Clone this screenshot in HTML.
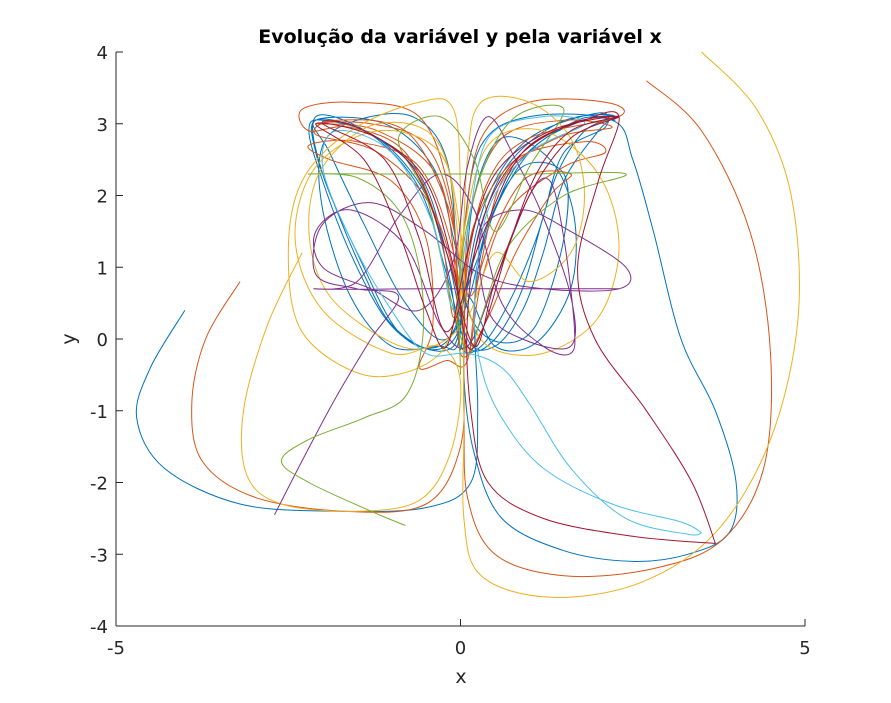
<!DOCTYPE html>
<html><head><meta charset="utf-8"><style>
html,body{margin:0;padding:0;background:#fff;}
svg{display:block;font-family:"DejaVu Sans","Liberation Sans",sans-serif;}
</style></head><body>
<svg id="chart" width="891" height="703" viewBox="0 0 891 703" xmlns="http://www.w3.org/2000/svg">
<rect x="0" y="0" width="891" height="703" fill="#fff"/>
<text x="460" y="43" text-anchor="middle" font-size="19" font-weight="bold" fill="#000">Evolução da variável y pela variável x</text>
<g id="series"></g>
<g id="axes"></g>
<text x="461" y="683" text-anchor="middle" font-size="19" fill="#262626">x</text>
<text x="75" y="339" text-anchor="middle" font-size="19" fill="#262626" transform="rotate(-90 75 339)">y</text>
</svg>
<script>
const xTicks = [-5, 0, 5];
const yTicks = [-4, -3, -2, -1, 0, 1, 2, 3, 4];
const seriesNames = ['blue', 'orange', 'yellow', 'purple', 'green', 'cyan', 'darkred'];
const seriesColors = ['#0072BD', '#D95319', '#EDB120', '#7E2F8E', '#77AC30', '#4DBEEE', '#A2142F'];
const blueSeries = [[-4,0.4],[-4.5,-0.4],[-4.7,-1.1],[-4.3,-1.8],[-3.2,-2.3],[-1.8,-2.4],[-0.5,-2.35],[0.15,-2.0],[0.25,-1.0],[0.2,0.3],[0.3,1.2],[0.6,2.0],[1.1,2.7],[1.8,3.05],[2.25,3.1],[1.8,2.9],[1.4,2.3],[1.1,1.4],[0.7,0.5],[0.3,-0.1],[0,-0.1],[-0.15,0.8],[-0.5,2],[-1.2,2.8],[-2,3.05],[-2.2,2.9],[-2,2.2],[-1.6,1.2],[-1.1,0.3],[-0.6,-0.1],[-0.1,-0.1],[0.1,0.6],[0.5,-0.1],[1.1,-0.05],[1.6,0.7],[1.65,1.7],[1.3,2.5],[0.6,2.8],[0.2,2],[0.05,0.6],[-0.05,-0.1],[-0.3,-0.1],[-1,-0.1],[-1.6,0.6],[-2,1.8],[-2,2.7],[-1.5,3.05],[-0.7,3.1],[-0.2,2.5],[-0.05,1],[0,-0.15],[0.15,1],[0.6,2.3],[1.4,3],[2.2,3.12],[2.0,2.9],[1.5,2.2],[1.2,1.2],[0.9,0.4],[0.5,-0.1],[0.1,0],[-0.2,1.2],[-0.6,2.3],[-1.4,2.9],[-2.1,3.05],[-2.1,2.6],[-1.8,1.8],[-1.4,0.9],[-1,0.2],[-0.4,-0.15],[0,0.2],[0.05,1.5],[0.3,2.7],[1,3.1],[2.2,3.05],[2.5,2.5],[2.8,1.5],[3.2,0],[3.7,-1],[4,-2],[3.9,-2.7],[3.3,-3.0],[2.5,-3.1],[1.5,-2.95],[0.6,-2.5],[0.2,-1.6],[0.05,-0.5],[0.1,0.8],[0.4,2],[1.0,2.8],[2.0,3.15],[2.1,2.95],[1.5,2.6],[1.2,1.7],[0.9,0.7],[0.5,0.0],[0.1,-0.1],[-0.2,0.9],[-0.6,2.1],[-1.3,2.85],[-2.1,3.1],[-2.0,2.3],[-1.5,1.2],[-0.9,0.1],[-0.3,-0.1],[0.1,0.5],[0.4,1.6],[0.9,2.4],[1.5,2.3],[1.5,1.4],[1.1,0.2],[0.6,-0.05],[0.15,0.3],[-0.1,1.4],[-0.4,2.4],[-1.1,3.0],[-2.1,3.05],[-1.9,2.6],[-1.4,1.6],[-0.8,0.5],[-0.2,0],[0.2,1.0],[0.8,2.4],[1.7,3.05],[2.25,3.05]];
const orangeSeries = [[-3.2,0.8],[-3.7,0],[-3.9,-0.9],[-3.75,-1.7],[-3.0,-2.2],[-1.7,-2.4],[-0.5,-2.3],[0,-1.5],[0.05,-0.3],[0.1,1],[0.4,2.2],[1,2.8],[2.3,3.1],[2.1,3.3],[1,3.3],[0.3,2.8],[0.05,1.5],[-0.1,0.3],[-0.3,1.5],[-0.8,2.6],[-1.6,2.95],[-2.2,2.9],[-2.3,3.2],[-1.6,3.3],[-0.6,3.1],[-0.15,2],[0,0.5],[0.2,1.6],[0.8,2.5],[1.8,2.75],[2.1,2.6],[1.5,2.4],[0.7,1.8],[0.3,0.8],[0.1,-0.2],[-0.1,1.2],[-0.6,2.4],[-1.5,2.75],[-2.2,2.7],[-1.9,2.5],[-1,2.2],[-0.5,1.4],[-0.4,0.2],[-0.6,-0.4],[-0.2,-0.3],[0.1,-0.3],[0.3,1],[0.9,2.2],[1.6,2.3],[1.3,2.0],[0.8,1.2],[0.4,0.3],[0,-0.2],[-0.1,1.6],[-0.5,2.7],[-1.3,3.0],[-2.1,3.0],[-1.2,2.9],[-0.3,2.2],[0,0.5],[0.15,1.8],[0.6,2.8],[1.5,3.05],[2.2,2.95],[1.4,2.8],[0.6,2.2],[0.15,0.6],[-0.2,1.9],[-0.8,2.9],[-1.8,3.05],[-2.1,2.85],[-1.2,2.6],[-0.4,1.8],[0,0.4],[0.05,-1.0],[0.1,-2.2],[0.5,-3.0],[1.5,-3.3],[2.8,-3.2],[3.8,-2.8],[4.4,-1.8],[4.5,-0.2],[4.2,1.5],[3.5,2.9],[2.7,3.6]];
const yellowSeries = [[-2.3,1.2],[-2.8,0.2],[-3.15,-1.0],[-3.1,-1.9],[-2.6,-2.3],[-1.5,-2.4],[-0.6,-2.25],[-0.15,-1.6],[0,-0.6],[-0.3,-0.1],[-1,-0.2],[-2,0.4],[-2.4,1.4],[-2.1,2.4],[-1.2,2.9],[-0.3,2.6],[0,1.5],[0.1,0.5],[0.4,-0.1],[1.2,-0.2],[2,0.3],[2.3,1.3],[2,2.3],[1.2,2.9],[0.4,2.7],[0.05,1.5],[-0.1,0.2],[-0.5,-0.35],[-1.4,-0.5],[-2.3,0.1],[-2.5,1.2],[-2.3,2.2],[-1.6,2.9],[-0.6,3.3],[-0.1,3.2],[0,2],[0,0.5],[0.1,2.5],[0.3,3.3],[1,3.3],[1.6,2.8],[1.8,2],[1.6,1.2],[1,0.8],[0.5,1.2],[0.1,0.3],[-0.4,-0.1],[-1.0,-0.05],[-1.9,0.6],[-2.2,1.5],[-2.0,2.4],[-1.2,3.0],[-0.3,2.7],[0,1.0],[0.05,-1],[0.05,-2.5],[0.3,-3.3],[1.3,-3.6],[2.6,-3.4],[3.7,-2.7],[4.5,-1.4],[4.9,0.3],[4.8,2],[4.3,3.2],[3.5,4]];
const purpleSeries = [[-2.7,-2.45],[-2.3,-1.7],[-1.8,-0.8],[-1.3,0],[-0.9,0.6],[-1.5,0.7],[-2.1,0.9],[-2,1.6],[-1.3,1.9],[-0.5,1.5],[0.3,0.9],[1.2,0.7],[2.3,0.7],[2.4,1.0],[1.6,1.5],[0.9,1.8],[0.3,1.5],[0.4,0.4],[0.9,0],[1.6,-0.1],[1.6,0.6],[1.2,1.7],[0.8,2.5],[0.4,3.1],[0.1,2.4],[-0.1,1.1],[-0.6,0.4],[-1.3,0.7],[-2,1],[-2.1,1.5],[-1.6,1.8],[-0.8,1.3],[-0.3,0.2],[0.1,-0.1],[0.5,0.8],[1.0,2.0],[1.3,2.2],[1.5,1.4],[1.65,0.2],[1.6,-0.2],[1.2,-0.1],[0.6,0.5],[0.2,1.8],[-0.3,2.3],[-0.9,1.7],[-1.5,0.8],[-2.1,0.7],[-0.5,0.7],[0.5,0.7],[2.3,0.7]];
const greenSeries = [[-0.8,-2.6],[-1.3,-2.4],[-2.2,-2.0],[-2.6,-1.7],[-2.2,-1.4],[-1.4,-1.1],[-0.8,-0.8],[-0.55,0],[-0.6,1],[-0.9,1.8],[-1.5,2.25],[-2.2,2.3],[-1,2.3],[0,2.3],[1,2.3],[2.4,2.3],[1.5,2],[0.7,1.3],[0.3,0.3],[0.1,-0.2],[-0.2,0.8],[-0.5,2],[-0.9,2.8],[-0.3,3.1],[0.2,2.5],[0.5,1.5],[1,2.4],[1.5,3.2],[0.8,3.1],[0.3,2.3],[0,1],[0,-0.5]];
const cyanSeries = [[3.5,-2.7],[3.2,-2.55],[2.2,-2.3],[1.2,-1.8],[0.6,-1.1],[0.3,-0.4],[0.2,0.5],[0.4,1.8],[1,2.6],[1.8,3],[1.2,3.1],[0.4,2.8],[0.1,1.5],[-0.1,0.4],[-0.4,1.6],[-1,2.6],[-1.8,2.9],[-2,2.4],[-1.6,1.4],[-1,0.4],[-0.5,-0.2],[0.1,-0.2],[0.6,-0.4],[1.0,-0.9],[1.6,-1.8],[2.4,-2.5],[3.3,-2.72],[3.5,-2.7]];
const darkredSeries = [[3.7,-2.85],[2.5,-2.75],[1.2,-2.5],[0.4,-2],[0.15,-1],[0.1,0.3],[0.3,1.6],[0.8,2.5],[1.6,3],[2.3,3.1],[1.6,2.9],[1.1,2.3],[0.7,1.3],[0.35,0.2],[0.1,-0.1],[-0.1,1],[-0.5,2.2],[-1.2,2.8],[-2.1,3.0],[-1.4,2.5],[-0.9,1.5],[-0.5,0.4],[-0.2,-0.1],[0.1,1.2],[0.5,2.3],[1.3,2.9],[2.3,3.1],[1.6,2.8],[1.0,2.0],[0.5,0.8],[0.2,-0.1],[-0.2,1.2],[-0.7,2.4],[-1.5,2.95],[-2.0,3.0],[-1.1,2.5],[-0.6,1.4],[-0.2,0.1],[0.3,1.4],[0.9,2.6],[1.8,3.05],[2.3,3.1],[2.0,2.2],[1.7,1.0],[1.95,0],[2.7,-1],[3.36,-2],[3.7,-2.85]];
const allSeries = [blueSeries, orangeSeries, yellowSeries, purpleSeries, greenSeries, cyanSeries, darkredSeries];

const X0 = 116, X1 = 805, Y0 = 626, Y1 = 52;
function sx(v){ return X0 + (v - xTicks[0]) / (xTicks[xTicks.length-1] - xTicks[0]) * (X1 - X0); }
function sy(v){ return Y0 - (v - yTicks[0]) / (yTicks[yTicks.length-1] - yTicks[0]) * (Y0 - Y1); }
const NS = 'http://www.w3.org/2000/svg';
function smoothPath(pts){
  const p = pts.map(q => [sx(q[0]), sy(q[1])]);
  let d = 'M' + p[0][0].toFixed(1) + ' ' + p[0][1].toFixed(1);
  for (let i = 0; i < p.length - 1; i++){
    const a = p[Math.max(i-1,0)], b = p[i], c = p[i+1], e = p[Math.min(i+2,p.length-1)];
    const c1 = [b[0] + (c[0]-a[0])/6, b[1] + (c[1]-a[1])/6];
    const c2 = [c[0] - (e[0]-b[0])/6, c[1] - (e[1]-b[1])/6];
    d += ' C' + c1[0].toFixed(1) + ' ' + c1[1].toFixed(1) + ' ' + c2[0].toFixed(1) + ' ' + c2[1].toFixed(1) + ' ' + c[0].toFixed(1) + ' ' + c[1].toFixed(1);
  }
  return d;
}
const sg = document.getElementById('series');
allSeries.forEach((s, i) => {
  const path = document.createElementNS(NS, 'path');
  path.setAttribute('d', smoothPath(s));
  path.setAttribute('fill', 'none');
  path.setAttribute('stroke', seriesColors[i]);
  path.setAttribute('stroke-width', '1');
  
  
  sg.appendChild(path);
});
const ag = document.getElementById('axes');
function mk(tag, attrs, txt){
  const el = document.createElementNS(NS, tag);
  for (const k in attrs) el.setAttribute(k, attrs[k]);
  if (txt !== undefined) el.textContent = txt;
  ag.appendChild(el);
  return el;
}
const xl = mk('line', {x1:X0, y1:Y0, x2:X1, y2:Y0, stroke:'#262626', 'stroke-width':1});


const yl = mk('line', {x1:X0, y1:Y0, x2:X0, y2:Y1, stroke:'#262626', 'stroke-width':1});


xTicks.forEach(t => {
  const tk = mk('line', {x1:sx(t), y1:Y0, x2:sx(t), y2:Y0-7, stroke:'#262626'});
  
  
  const lb = mk('text', {x:sx(t), y:Y0+28, 'text-anchor':'middle', 'font-size':18, fill:'#262626'}, String(t));
  
  
});
yTicks.forEach(t => {
  const tk = mk('line', {x1:X0, y1:sy(t), x2:X0+7, y2:sy(t), stroke:'#262626'});
  
  
  const lb = mk('text', {x:X0-8, y:sy(t)+7, 'text-anchor':'end', 'font-size':18, fill:'#262626'}, String(t));
  
  
});
</script>
</body></html>
